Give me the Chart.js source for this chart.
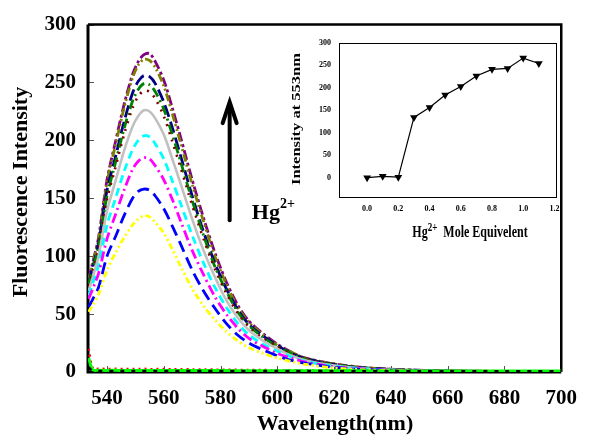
<!DOCTYPE html>
<html><head><meta charset="utf-8">
<script src="https://cdn.jsdelivr.net/npm/chart.js@4.4.1/dist/chart.umd.min.js"></script>
<style>
html,body{margin:0;padding:0;background:#fff;}
#wrap{position:relative;width:591px;height:443px;background:#fff;}
#main{position:absolute;left:0;top:0;}
#inset{position:absolute;left:275px;top:30px;}
</style></head><body>
<div id="wrap"><canvas id="main" width="591" height="443"></canvas><canvas id="inset" width="295" height="230"></canvas></div>
<script>
// ---------- main chart data ----------
const wavelengths = [533.5,535,537,540,543,546,549,551,553,555,557,560,563,566,570,574,578,582,586,590,595,600,605,610,620,630,640,650,660,680,700];
const xTicks = [540,560,580,600,620,640,660,680,700];
const yTicks = [0,50,100,150,200,250,300];

const limeCurve   = [12,1.8,1.5,1.4,1.5,1.3,1.4,1.3,1.4,1.3,1.3,1.4,1.2,1.3,1.3,1.2,1.2,1.2,1.1,1.1,1.1,1.1,1.0,1.0,1.0,1.0,0.9,0.9,0.9,0.9,0.9];
const redCurve    = [20,3,2.8,2.6,2.7,2.5,2.6,2.5,2.7,2.4,2.5,2.6,2.3,2.4,2.2,2.1,2.0,1.9,1.8,1.7,1.6,1.5,1.4,1.3,1.2,1.1,1.0,0.9,0.8,0.7,0.6];
const blackCurve  = [4,1.0,0.9,0.9,0.9,0.9,0.9,0.9,0.9,0.9,0.9,0.9,0.9,0.9,0.9,0.8,0.8,0.8,0.8,0.8,0.8,0.8,0.8,0.8,0.7,0.7,0.7,0.7,0.7,0.7,0.7];
const yellowCurve = [52,58,67,88,103,116,127,132,135,134,129,120,106,91,72,57,45,35,27,21,16,12,9,6.5,3.5,2,1.2,0.8,0.5,0.3,0.2];
const blueCurve   = [56,63,73,100,117,135,150,156,158,157,152,141,126,110,88,70,55,42,32,25,19,14,10,7.5,4,2.3,1.4,0.9,0.6,0.3,0.2];
const magentaCurve= [63,72,85,115,136,157,175,182,185,184,178,166,149,130,105,84,65,50,38,29,22,16,12,8.5,4.5,2.6,1.5,1,0.6,0.3,0.2];
const cyanCurve   = [66,77,92,127,150,173,192,200,204,203,197,184,165,145,118,94,73,56,42,32,24,18,13,9,5,2.8,1.7,1,0.7,0.4,0.2];
const grayCurve   = [70,82,100,139,165,191,212,221,226,225,219,205,184,162,132,105,82,62,47,36,27,20,14,10,5.5,3,1.8,1.1,0.7,0.4,0.2];
const maroonCurve = [74,87,106,149,177,205,228,238,243,242,236,221,199,176,144,115,89,68,51,39,29,22,15,11,6,3.4,2,1.2,0.8,0.4,0.2];
const greenCurve  = [76,89,108,152,181,210,234,244,249,248,242,227,205,181,148,118,91,70,52,40,30,22,16,11,6.2,3.5,2.1,1.3,0.8,0.4,0.2];
const navyCurve   = [77,91,111,157,186,216,241,251,256,255,249,233,211,186,152,121,94,72,54,41,31,23,16,11.5,6.5,3.6,2.2,1.3,0.8,0.4,0.2];
const oliveCurve  = [79,94,114,164,196,228,254,265,270,269,263,247,223,197,162,130,100,76,56,43,32,23,17,12,7,3.9,2.4,1.4,0.9,0.5,0.3];
const purpleCurve = [80,95,116,166,199,231,257,268,274,275,268,252,228,202,166,133,103,78,58,44,33,24,17,12,7,4,2.5,1.5,1,0.5,0.3];

// ---------- inset data ----------
const equivalents = [0.0,0.1,0.2,0.3,0.4,0.5,0.6,0.7,0.8,0.9,1.0,1.1];
const intensity553 = [0,3,1,134,156,184,203,226,241,243,266,254];
const insetXTicks = [0.0,0.2,0.4,0.6,0.8,1.0,1.2];
const insetYTicks = [0,50,100,150,200,250,300];

const FONT = "'Liberation Serif','Times New Roman',serif";
const toXY = arr => arr.map((v,i)=>({x:wavelengths[i], y:v}));

const styles = [
  [blackCurve,  '#000000', [4,7], 2.6],
  [limeCurve,   '#00ff00', [], 3],
  [redCurve,    '#ff0000', [2,4], 2.6],
  [yellowCurve, '#ffff00', [6,3,2,3,2,3], 2.8],
  [blueCurve,   '#0000ff', [12,6], 2.8],
  [magentaCurve,'#ff00ff', [10,4,2,4], 2.8],
  [cyanCurve,   '#00ffff', [8,5], 2.8],
  [grayCurve,   '#c0c0c0', [], 2.6],
  [maroonCurve, '#800000', [2,6], 2.6],
  [greenCurve,  '#008000', [10,4,2,4], 2.8],
  [navyCurve,   '#000080', [12,5], 2.8],
  [oliveCurve,  '#808000', [8,3,2,3,2,3], 2.8],
  [purpleCurve, '#800080', [10,3,3,3], 2.8]
];

const datasets = styles.map(([arr,color,dash,w])=>({
  data: toXY(arr), borderColor: color, backgroundColor: color,
  borderWidth: w, borderDash: dash, pointRadius: 0, tension: 0.3, fill:false
}));

const mainDecor = {
  id:'mainDecor',
  beforeDatasetsDraw(chart){
    const {ctx, chartArea:a, scales:{x,y}} = chart;
    ctx.save();
    ctx.strokeStyle = '#555'; ctx.lineWidth = 1;
    xTicks.forEach(t=>{const px=Math.round(x.getPixelForValue(t))+0.5; ctx.beginPath(); ctx.moveTo(px,a.bottom); ctx.lineTo(px,a.bottom-6); ctx.stroke();});
    yTicks.forEach(t=>{const py=Math.round(y.getPixelForValue(t))+0.5; ctx.beginPath(); ctx.moveTo(a.left,py); ctx.lineTo(a.left+6,py); ctx.stroke();});
    ctx.strokeStyle = '#000';
    ctx.lineWidth = 2.5;
    ctx.beginPath(); ctx.moveTo(a.left,a.top); ctx.lineTo(a.right,a.top); ctx.lineTo(a.right,a.bottom); ctx.stroke();
    ctx.lineWidth = 3;
    ctx.beginPath(); ctx.moveTo(a.left,a.top); ctx.lineTo(a.left,a.bottom); ctx.lineTo(a.right,a.bottom); ctx.stroke();
    ctx.restore();
  },
  afterDatasetsDraw(chart){
    const {ctx, chartArea:a, scales:{x,y}} = chart;
    ctx.save();
    ctx.strokeStyle = '#000';
    // arrow
    const ax = x.getPixelForValue(583.2), ay1 = y.getPixelForValue(233), ay2 = y.getPixelForValue(131);
    ctx.lineWidth = 4; ctx.lineCap='round'; ctx.lineJoin='miter';
    ctx.beginPath(); ctx.moveTo(ax,ay2); ctx.lineTo(ax,ay1+2); ctx.stroke();
    ctx.beginPath(); ctx.moveTo(ax-7,ay1+21); ctx.lineTo(ax,ay1); ctx.lineTo(ax+7,ay1+21); ctx.stroke();
    // Hg2+ label
    const hx = x.getPixelForValue(591), hy = y.getPixelForValue(132.5);
    ctx.fillStyle='#000'; ctx.textBaseline='alphabetic'; ctx.textAlign='left';
    ctx.font = 'bold 22px '+FONT; ctx.fillText('Hg', hx, hy);
    const w = ctx.measureText('Hg').width;
    ctx.font = 'bold 14px '+FONT; ctx.fillText('2+', hx+w, hy-11);
    // axis titles
    ctx.font = 'bold 22px '+FONT; ctx.textAlign='center'; ctx.textBaseline='middle';
    ctx.fillText('Wavelength(nm)', 335, 424);
    ctx.save(); ctx.translate(21,192); ctx.rotate(-Math.PI/2);
    ctx.fillText('Fluorescence Intensity', 0, 0); ctx.restore();
    ctx.restore();
  }
};

new Chart(document.getElementById('main'), {
  type:'line',
  data:{datasets},
  options:{
    responsive:false, animation:false, devicePixelRatio:1,
    layout:{padding:{top:23,right:18,left:0,bottom:0}},
    plugins:{legend:{display:false}, tooltip:{enabled:false}},
    scales:{
      x:{type:'linear', min:533.3, max:700,
        afterBuildTicks: s=>{s.ticks = xTicks.map(v=>({value:v}));},
        afterFit: s=>{s.height = 71;},
        grid:{display:false, drawTicks:false}, border:{display:false},
        ticks:{color:'#000', padding:14, font:{family:FONT, size:21, weight:'bold'}, maxRotation:0, autoSkip:false}},
      y:{type:'linear', min:0, max:300,
        afterBuildTicks: s=>{s.ticks = yTicks.map(v=>({value:v}));},
        afterFit: s=>{s.width = 88;},
        grid:{display:false, drawTicks:false}, border:{display:false},
        ticks:{color:'#000', padding:12, font:{family:FONT, size:21, weight:'bold'}}}
    }
  },
  plugins:[mainDecor]
});

// ---------- inset ----------
const insetDecor = {
  id:'insetDecor',
  afterDatasetsDraw(chart){
    const {ctx, chartArea:a} = chart;
    ctx.save();
    ctx.strokeStyle='#000'; ctx.lineWidth=1;
    ctx.strokeRect(Math.round(a.left)+0.5, Math.round(a.top)+0.5, Math.round(a.right-a.left), Math.round(a.bottom-a.top));
    ctx.fillStyle='#000';
    ctx.font='bold 16.5px '+FONT; ctx.textAlign='center'; ctx.textBaseline='middle';
    ctx.save(); ctx.translate(22,89); ctx.scale(0.8,1); ctx.rotate(-Math.PI/2); ctx.fillText('Intensity at 553nm',0,0); ctx.restore();
    // x title with superscript (horizontally condensed like the reference)
    ctx.save(); ctx.translate(195,207); ctx.scale(0.75,1);
    ctx.textAlign='left'; ctx.textBaseline='alphabetic';
    ctx.font='bold 16px '+FONT; const w1 = ctx.measureText('Hg').width;
    ctx.font='bold 12px '+FONT; const w2 = ctx.measureText('2+').width;
    ctx.font='bold 16px '+FONT; const w3 = ctx.measureText('  Mole Equivelent').width;
    let sx = -(w1+w2+w3)/2;
    ctx.font='bold 16px '+FONT; ctx.fillText('Hg', sx, 0);
    ctx.font='bold 12px '+FONT; ctx.fillText('2+', sx+w1, -6);
    ctx.font='bold 16px '+FONT; ctx.fillText('  Mole Equivelent', sx+w1+w2, 0);
    ctx.restore();
    ctx.restore();
  }
};

new Chart(document.getElementById('inset'), {
  type:'line',
  data:{datasets:[{
    data: equivalents.map((v,i)=>({x:v, y:intensity553[i]})),
    borderColor:'#000', backgroundColor:'#000', borderWidth:1.2,
    pointStyle:'triangle', rotation:180, pointRadius:4.5, pointBorderWidth:0, tension:0
  }]},
  options:{
    responsive:false, animation:false, devicePixelRatio:1,
    layout:{padding:{top:12,right:14,left:0,bottom:0}},
    plugins:{legend:{display:false}, tooltip:{enabled:false}},
    scales:{
      x:{type:'linear', min:-0.18, max:1.21,
        afterBuildTicks: s=>{s.ticks = insetXTicks.map(v=>({value:v}));},
        afterFit: s=>{s.height = 63;},
        grid:{display:false, drawTicks:false}, border:{display:false},
        ticks:{color:'#000', padding:7, font:{family:FONT, size:8, weight:'bold'}, maxRotation:0, autoSkip:false,
          callback: v=>Number(v).toFixed(1)}},
      y:{type:'linear', min:-43, max:300,
        afterBuildTicks: s=>{s.ticks = insetYTicks.map(v=>({value:v}));},
        afterFit: s=>{s.width = 64;},
        grid:{display:false, drawTicks:false}, border:{display:false},
        ticks:{color:'#000', padding:8, font:{family:FONT, size:8, weight:'bold'}}}
    }
  },
  plugins:[insetDecor]
});
</script>
</body></html>
